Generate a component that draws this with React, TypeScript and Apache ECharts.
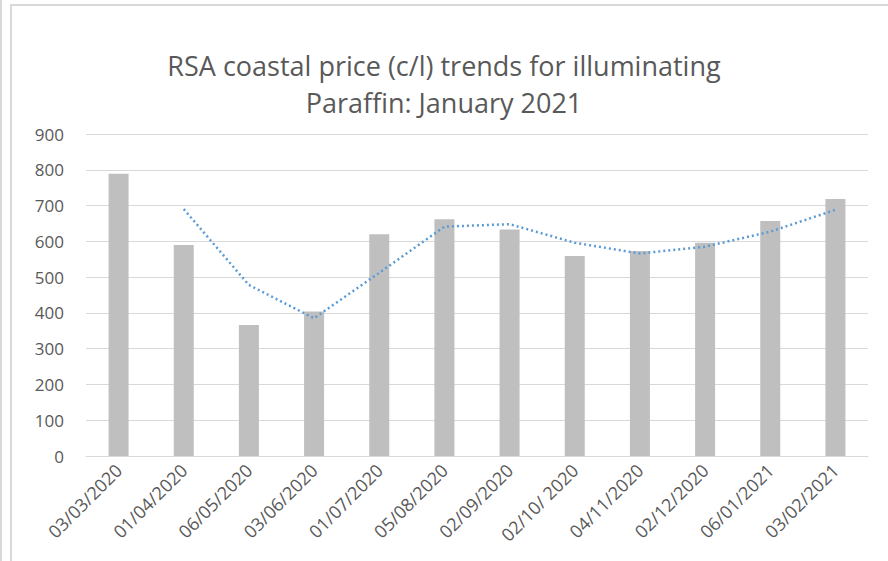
import React, { useEffect, useRef } from "react";
import * as echarts from "echarts";

const categories = [
  "03/03/2020", "01/04/2020", "06/05/2020", "03/06/2020", "01/07/2020", "05/08/2020",
  "02/09/2020", "02/10/ 2020", "04/11/2020", "02/12/2020", "06/01/2021", "03/02/2021",
];
const prices = [789, 590, 366, 404, 620, 662, 633, 559, 573, 596, 657, 718];
const trend = [null, 690, 478, 385, 512, 641, 648, 596, 566, 585, 627, 688];
const yTicks = [0, 100, 200, 300, 400, 500, 600, 700, 800, 900];

const titleText = "RSA coastal price (c/l) trends for illuminating\nParaffin: January 2021";

export default function App() {
  const ref = useRef<HTMLDivElement>(null);
  useEffect(() => {
    if (!ref.current) return;
    const chart = echarts.init(ref.current, null, { renderer: "svg" });
    chart.setOption({
      animation: false,
      backgroundColor: "#ffffff",
      title: {
        text: titleText,
        left: "center",
        top: 42,
        textStyle: {
          fontFamily: "Open Sans",
          fontWeight: "normal",
          fontSize: 27,
          lineHeight: 37,
          color: "#595959",
        },
      },
      graphic: [
        { type: "line", shape: { x1: 1, y1: 0, x2: 1, y2: 561 }, style: { stroke: "#d9d9d9", lineWidth: 2 } },
        { type: "rect", shape: { x: 11, y: 5, width: 900, height: 600 }, style: { fill: "none", stroke: "#d9d9d9", lineWidth: 2 } },
      ],
      grid: { left: 86, right: 20, top: 134, bottom: 105, containLabel: false },
      xAxis: {
        type: "category",
        data: categories,
        axisTick: { show: false },
        axisLine: { lineStyle: { color: "#d9d9d9", width: 1 } },
        axisLabel: {
          rotate: 45,
          interval: 0,
          margin: 11,
          color: "#595959",
          fontFamily: "Open Sans",
          fontSize: 18,
        },
      },
      yAxis: {
        type: "value",
        min: yTicks[0],
        max: yTicks[yTicks.length - 1],
        interval: 100,
        axisLine: { show: false },
        axisTick: { show: false },
        splitLine: { lineStyle: { color: "#d9d9d9", width: 1 } },
        axisLabel: {
          margin: 22,
          color: "#595959",
          fontFamily: "Open Sans",
          fontSize: 17,
        },
      },
      series: [
        {
          type: "bar",
          data: prices,
          barWidth: 20,
          itemStyle: { color: "#bfbfbf" },
        },
        {
          type: "line",
          data: trend,
          symbol: "none",
          connectNulls: false,
          lineStyle: { color: "#5b9bd5", width: 2.5, type: [2, 3] },
        },
      ],
    });
    return () => chart.dispose();
  }, []);
  return (
    <div
      ref={ref}
      style={{ position: "absolute", left: 0, top: 0, width: 888, height: 561 }}
    />
  );
}
